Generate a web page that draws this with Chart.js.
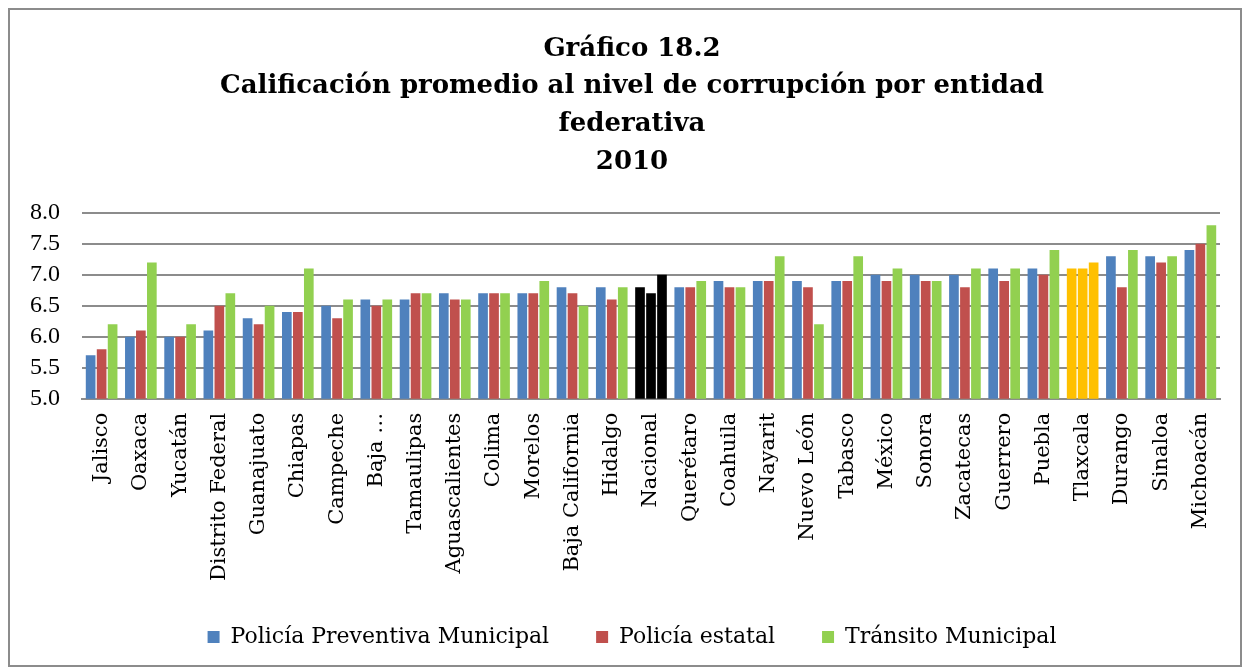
<!DOCTYPE html>
<html>
<head>
<meta charset="utf-8">
<script src="https://cdn.jsdelivr.net/npm/chart.js@4"></script>
<style>
  body { margin: 0; background: #fff; }
  #frame { position: absolute; left: 8px; top: 8px; width: 1230px; height: 655px; border: 2px solid #8c8c8c; background: #fff; }
  #chart { display: block; }
</style>
</head>
<body>
<div id="frame"><canvas id="chart" width="1230" height="655"></canvas></div>
<script>
// Calificación promedio por entidad, 2010
const estados = ['Jalisco', 'Oaxaca', 'Yucatán', 'Distrito Federal', 'Guanajuato', 'Chiapas', 'Campeche', 'Baja …',
  'Tamaulipas', 'Aguascalientes', 'Colima', 'Morelos', 'Baja California', 'Hidalgo', 'Nacional', 'Querétaro',
  'Coahuila', 'Nayarit', 'Nuevo León', 'Tabasco', 'México', 'Sonora', 'Zacatecas', 'Guerrero', 'Puebla',
  'Tlaxcala', 'Durango', 'Sinaloa', 'Michoacán'];
const preventiva = [5.7, 6.0, 6.0, 6.1, 6.3, 6.4, 6.5, 6.6, 6.6, 6.7, 6.7, 6.7, 6.8, 6.8, 6.8, 6.8,
  6.9, 6.9, 6.9, 6.9, 7.0, 7.0, 7.0, 7.1, 7.1, 7.1, 7.3, 7.3, 7.4];
const estatal = [5.8, 6.1, 6.0, 6.5, 6.2, 6.4, 6.3, 6.5, 6.7, 6.6, 6.7, 6.7, 6.7, 6.6, 6.7, 6.8,
  6.8, 6.9, 6.8, 6.9, 6.9, 6.9, 6.8, 6.9, 7.0, 7.1, 6.8, 7.2, 7.5];
const transito = [6.2, 7.2, 6.2, 6.7, 6.5, 7.1, 6.6, 6.6, 6.7, 6.6, 6.7, 6.9, 6.5, 6.8, 7.0, 6.9,
  6.8, 7.3, 6.2, 7.3, 7.1, 6.9, 7.1, 7.1, 7.4, 7.2, 7.4, 7.3, 7.8];
const yTicks = [5.0, 5.5, 6.0, 6.5, 7.0, 7.5, 8.0];

// Nacional en negro, Tlaxcala en amarillo
function colores(base) {
  return estados.map(e => e === 'Nacional' ? '#000000' : (e === 'Tlaxcala' ? '#FFC000' : base));
}

const ctx = document.getElementById('chart').getContext('2d');
new Chart(ctx, {
  type: 'bar',
  data: {
    labels: estados,
    datasets: [
      { label: 'Policía Preventiva Municipal', data: preventiva, backgroundColor: colores('#4F81BD') },
      { label: 'Policía estatal', data: estatal, backgroundColor: colores('#C0504D') },
      { label: 'Tránsito Municipal', data: transito, backgroundColor: colores('#92D050') }
    ]
  },
  options: {
    responsive: false,
    animation: false,
    layout: { padding: { left: 14, right: 0, top: 12, bottom: 7 } },
    datasets: { bar: { categoryPercentage: 0.84, barPercentage: 0.88 } },
    plugins: {
      title: {
        display: true,
        text: ['Gráfico 18.2', 'Calificación promedio al nivel de corrupción por entidad', 'federativa', '2010'],
        color: '#000',
        font: { family: 'DejaVu Serif', size: 26, weight: 'bold', lineHeight: 1.45 },
        padding: { top: 8, bottom: 32 }
      },
      legend: {
        position: 'bottom',
        labels: {
          color: '#000',
          boxWidth: 12, boxHeight: 12,
          padding: 26,
          font: { family: 'DejaVu Serif', size: 22 },
          // espacio extra entre elementos de la leyenda
          generateLabels: chart => chart.data.datasets.map((ds, i, all) => ({
            text: i < all.length - 1 ? ds.label + '   ' : ds.label,
            fillStyle: ['#4F81BD', '#C0504D', '#92D050'][i],
            strokeStyle: 'transparent', lineWidth: 0, datasetIndex: i
          }))
        }
      },
      tooltip: { enabled: false }
    },
    scales: {
      x: {
        grid: { display: false },
        border: { display: true, color: '#8c8c8c', width: 2 },
        afterFit: axis => { axis.height += 13; },
        ticks: { color: '#000', minRotation: 90, maxRotation: 90, autoSkip: false, padding: 6,
          font: { family: 'DejaVu Serif', size: 21 } }
      },
      y: {
        min: 5, max: 8,
        afterBuildTicks: axis => { axis.ticks = yTicks.map(v => ({ value: v })); },
        afterFit: axis => { axis.width = 58; },
        grid: { color: '#8c8c8c', lineWidth: 2, drawTicks: false },
        border: { display: false },
        ticks: { color: '#000', padding: 22, autoSkip: false, callback: v => v.toFixed(1),
          font: { family: 'Liberation Serif', size: 24 } }
      },
      // margen derecho vacío
      margen: {
        position: 'right',
        afterFit: axis => { axis.width = 20; },
        grid: { display: false },
        border: { display: false },
        ticks: { display: false }
      }
    }
  }
});
</script>
</body>
</html>
